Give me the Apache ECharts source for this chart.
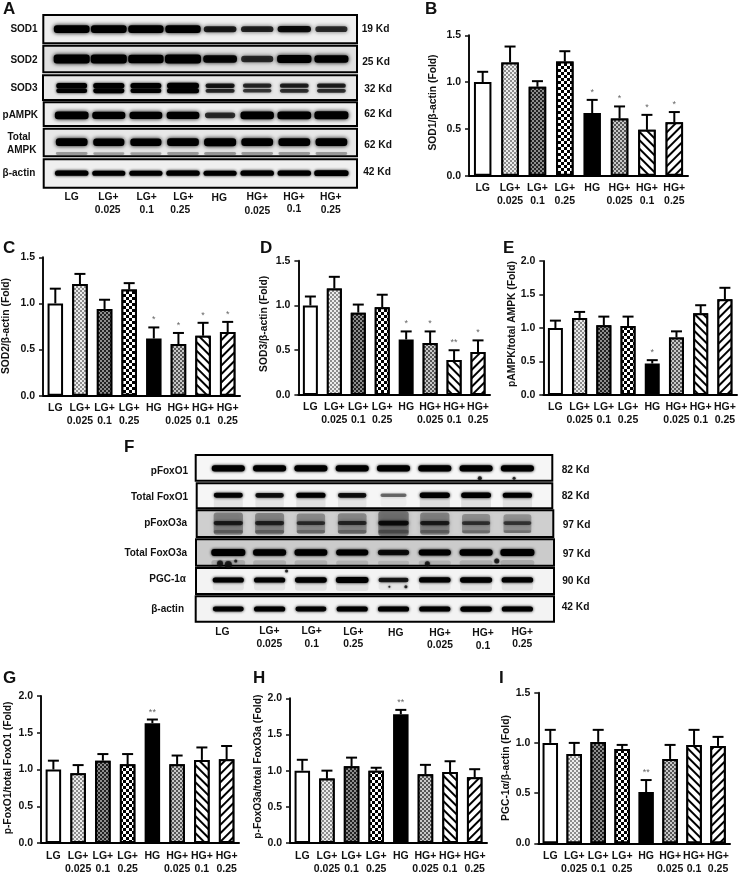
<!DOCTYPE html>
<html>
<head>
<meta charset="utf-8">
<title>Western blot panels</title>
<script src="https://cdn.jsdelivr.net/npm/echarts@6/dist/echarts.min.js"></script>
<style>
  html, body { margin: 0; padding: 0; background: #fff; }
  #main { width: 740px; height: 876px; }
</style>
</head>
<body>
<div id="main"></div>
<script>
const categories = ['LG', 'LG+\n0.025', 'LG+\n0.1', 'LG+\n0.25', 'HG', 'HG+\n0.025', 'HG+\n0.1', 'HG+\n0.25']

// bar heights and the top of each error bar
const sod1Mean = [1.0, 1.21, 0.95, 1.22, 0.67, 0.61, 0.49, 0.57]
const sod1Top = [1.11, 1.38, 1.01, 1.33, 0.81, 0.74, 0.65, 0.68]
const sod1Stars = ['', '', '', '', '*', '*', '*', '*']

const sod2Mean = [1.0, 1.21, 0.94, 1.15, 0.62, 0.56, 0.65, 0.69]
const sod2Top = [1.16, 1.32, 1.04, 1.22, 0.74, 0.68, 0.79, 0.80]
const sod2Stars = ['', '', '', '', '*', '*', '*', '*']

const sod3Mean = [1.0, 1.19, 0.92, 0.98, 0.62, 0.58, 0.39, 0.48]
const sod3Top = [1.10, 1.32, 1.01, 1.12, 0.71, 0.71, 0.50, 0.61]
const sod3Stars = ['', '', '', '', '*', '*', '**', '*']

const ampkMean = [1.0, 1.15, 1.04, 1.03, 0.47, 0.86, 1.22, 1.43]
const ampkTop = [1.11, 1.24, 1.17, 1.17, 0.52, 0.95, 1.34, 1.60]
const ampkStars = ['', '', '', '', '*', '', '', '']

const foxo1Mean = [1.0, 0.95, 1.12, 1.07, 1.63, 1.07, 1.13, 1.14]
const foxo1Top = [1.12, 1.06, 1.21, 1.21, 1.68, 1.19, 1.30, 1.32]
const foxo1Stars = ['', '', '', '', '**', '', '', '']

const foxo3Mean = [1.0, 0.89, 1.06, 1.0, 1.78, 0.95, 0.98, 0.91]
const foxo3Top = [1.15, 1.0, 1.18, 1.04, 1.84, 1.08, 1.13, 1.02]
const foxo3Stars = ['', '', '', '', '**', '', '', '']

const pgcMean = [1.0, 0.89, 1.01, 0.94, 0.51, 0.84, 0.98, 0.97]
const pgcTop = [1.13, 1.0, 1.13, 0.98, 0.63, 0.98, 1.13, 1.06]
const pgcStars = ['', '', '', '', '**', '', '', '']

// band strength per lane (0 - 1), estimated from the blots
const sod1Blot = [0.95, 0.95, 0.9, 0.9, 0.5, 0.45, 0.6, 0.4]
const sod2Blot = [1, 1, 0.9, 1, 0.65, 0.4, 0.75, 0.7]
const sod3Blot = [0.8, 0.85, 0.8, 1, 0.5, 0.4, 0.45, 0.45]
const pampkBlot = [0.95, 0.85, 0.8, 0.8, 0.4, 0.9, 0.95, 1]
const totalAmpkBlot = [0.95, 0.85, 0.85, 0.95, 1, 0.95, 0.95, 0.95]
const actinBlotA = [0.75, 0.7, 0.7, 0.75, 0.7, 0.75, 0.75, 0.9]
const pfoxo1Blot = [0.85, 0.85, 0.85, 0.85, 0.85, 0.85, 0.85, 0.85]
const totalFoxo1Blot = [0.65, 0.55, 0.7, 0.55, 0.12, 0.85, 0.8, 0.7]
const pfoxo3Blot = [0.7, 0.65, 0.55, 0.6, 0.9, 0.7, 0.5, 0.45]
const totalFoxo3Blot = [1, 0.85, 0.8, 0.7, 0.55, 0.7, 0.85, 1]
const pgcBlot = [0.7, 0.7, 0.8, 0.95, 0.5, 0.75, 0.85, 0.75]
const actinBlotF = [0.65, 0.7, 0.65, 0.7, 0.7, 0.7, 0.75, 0.7]

// stray spots on the membranes: [lane, height in the strip, size]
const pfoxo1Specks = [[6.09, 0.9, 4], [6.92, 0.9, 3]]
const totalFoxo3Specks = [[0.18, 0.82, 3], [6.5, 0.82, 5], [4.82, 0.93, 5], [-0.2, 0.92, 6], [0, 0.95, 7]]
const pgcSpecks = [[1.41, 0.12, 3], [3.9, 0.72, 2], [4.3, 0.72, 3]]

const FONT = 'Liberation Sans'

// fill of the eight bars, left to right
const fine = (fg, bg) => ({
  color: fg,
  backgroundColor: bg,
  symbol: 'rect',
  symbolSize: 1,
  dashArrayX: [[2, 2], [0, 2, 2, 0]],
  dashArrayY: [2, 0]
})
const stripes = rotation => ({
  color: '#000',
  backgroundColor: '#fff',
  symbol: 'rect',
  symbolSize: 1,
  dashArrayX: [1, 0],
  dashArrayY: [2, 4],
  rotation
})
const barFills = [
  null,
  fine('#8c8c8c', '#ececec'),
  fine('#222', '#8e8e8e'),
  { color: '#000', backgroundColor: '#fff', symbol: 'rect', symbolSize: 1, dashArrayX: [[3, 3], [0, 3, 3, 0]], dashArrayY: [3, 0] },
  null,
  fine('#555', '#c8c8c8'),
  stripes(Math.PI / 4),
  stripes(-Math.PI / 4)
]
const barColors = ['#fff', '#ccc', '#555', '#777', '#000', '#999', '#888', '#888']

const barPanels = [
  { title: 'SOD1/β-actin (Fold)', mean: sod1Mean, top: sod1Top, stars: sod1Stars, max: 1.5, left: 469, right: 688, yTop: 35.3, yBottom: 175.7, bar: 17.5, margin: 6, gap: 31, shift: 6 },
  { title: 'SOD2/β-actin (Fold)', mean: sod2Mean, top: sod2Top, stars: sod2Stars, max: 1.5, left: 42, right: 240, yTop: 257.3, yBottom: 395.7, bar: 15.5, margin: 6, gap: 32, shift: 1 },
  { title: 'SOD3/β-actin (Fold)', mean: sod3Mean, top: sod3Top, stars: sod3Stars, max: 1.5, left: 298.4, right: 490, yTop: 260.7, yBottom: 395, bar: 15, margin: 6, gap: 29, shift: 8 },
  { title: 'pAMPK/total AMPK (Fold)', mean: ampkMean, top: ampkTop, stars: ampkStars, max: 2, left: 543.3, right: 737, yTop: 261, yBottom: 395, bar: 15, margin: 6, gap: 26, shift: 8 },
  { title: 'p-FoxO1/total FoxO1 (Fold)', mean: foxo1Mean, top: foxo1Top, stars: foxo1Stars, max: 2, left: 41, right: 239, yTop: 696, yBottom: 843.3, bar: 15.5, margin: 7, gap: 28, shift: 3 },
  { title: 'p-FoxO3a/total FoxO3a (Fold)', mean: foxo3Mean, top: foxo3Top, stars: foxo3Stars, max: 2, left: 290, right: 487, yTop: 698.3, yBottom: 844, bar: 15.5, margin: 7, gap: 23, shift: 8 },
  { title: 'PGC-1α/β-actin (Fold)', mean: pgcMean, top: pgcTop, stars: pgcStars, max: 1.5, left: 538.3, right: 730, yTop: 692.7, yBottom: 843.3, bar: 15.5, margin: 6, gap: 27, shift: 0 }
]

// bands: where each band sits in its strip (0 top, 1 bottom), height in px, strength, blur
const firstA = 71.7
const stepA = 37.1
const firstF = 228.3
const stepF = 41.3
const blotStrips = [
  { levels: sod1Blot, first: firstA, step: stepA, x0: 43.3, x1: 357, y0: 15, y1: 43.3, bg: '#efefef', laneW: 36, bands: [[0.5, 8, 1, 4]] },
  { levels: sod2Blot, first: firstA, step: stepA, x0: 43.3, x1: 357, y0: 45.7, y1: 72.3, bg: '#e0e0e0', laneW: 36, bands: [[0.5, 9, 1, 4]] },
  { levels: sod3Blot, first: firstA, step: stepA, x0: 43, x1: 357, y0: 75.3, y1: 100, bg: '#e8e8e8', laneW: 32, bands: [[0.42, 6, 1, 3], [0.63, 5, 0.9, 3]] },
  { levels: pampkBlot, first: firstA, step: stepA, x0: 43.7, x1: 357, y0: 102.3, y1: 126, bg: '#eeeeee', laneW: 34, bands: [[0.55, 8, 1, 4]] },
  { levels: totalAmpkBlot, first: firstA, step: stepA, x0: 43.7, x1: 357, y0: 128.7, y1: 156.3, bg: '#e8e8e8', laneW: 32, bands: [[0.49, 8, 1, 4], [0.9, 3, 0.25, 3]] },
  { levels: actinBlotA, first: firstA, step: stepA, x0: 43.7, x1: 357, y0: 159.3, y1: 187.7, bg: '#efefef', laneW: 35, bands: [[0.49, 6, 1, 3]] },
  { levels: pfoxo1Blot, first: firstF, step: stepF, x0: 195.7, x1: 552.3, y0: 455, y1: 480.7, bg: '#f6f6f6', laneW: 34, bands: [[0.52, 7, 1, 3]], specks: pfoxo1Specks },
  { levels: totalFoxo1Blot, first: firstF, step: stepF, x0: 196.7, x1: 552.3, y0: 483.3, y1: 508.3, bg: '#f6f6f6', laneW: 31, bands: [[0.75, 16, 0.08, 6], [0.48, 6, 1, 3]] },
  { levels: pfoxo3Blot, first: firstF, step: stepF, x0: 196.7, x1: 553.3, y0: 510.3, y1: 537, bg: '#cfcfcf', laneW: 31, bands: [[0.5, 26, 0.34, 5], [0.48, 5, 0.7, 3], [0.8, 4, 0.25, 3]] },
  { levels: totalFoxo3Blot, first: firstF, step: stepF, x0: 196, x1: 554, y0: 539.3, y1: 565.7, bg: '#cbcbcb', laneW: 34, bands: [[0.5, 7, 1, 3], [0.9, 6, 0.12, 4]], specks: totalFoxo3Specks },
  { levels: pgcBlot, first: firstF, step: stepF, x0: 196, x1: 554, y0: 568, y1: 594, bg: '#f3f3f3', laneW: 33, bands: [[0.46, 6, 1, 3], [0.7, 10, 0.06, 5]], specks: pgcSpecks },
  { levels: actinBlotF, first: firstF, step: stepF, x0: 195.7, x1: 554, y0: 596.3, y1: 621.7, bg: '#f3f3f3', laneW: 33, bands: [[0.5, 6, 1, 3]] }
]

// free text: [text, x, y]
const blotLabelsA = [
  ['SOD1', 24, 29.3], ['SOD2', 24, 60], ['SOD3', 24, 88.7], ['pAMPK', 20.3, 115], ['Total', 19, 137.7], ['AMPK', 21.7, 150.3], ['β-actin', 19, 173.3]
]
const kdLabelsA = [['19 Kd', 375.5, 29.3], ['25 Kd', 376, 61.7], ['32 Kd', 378, 89], ['62 Kd', 378, 114.3], ['62 Kd', 378, 145.3], ['42 Kd', 377, 171.7]]
const laneLabelsA = [
  ['LG', 71.7, 197.3], ['LG+', 108.3, 197.3], ['0.025', 107.7, 210], ['LG+', 146.7, 197.3], ['0.1', 146.7, 210], ['LG+', 183.3, 197.3], ['0.25', 180.3, 210],
  ['HG', 219.3, 198], ['HG+', 257.3, 197.3], ['0.025', 257.3, 210.7], ['HG+', 294, 196.7], ['0.1', 294, 209.3], ['HG+', 330.7, 197.3], ['0.25', 330.7, 210]
]
const blotLabelsF = [
  ['pFoxO1', 188, 471.7], ['Total FoxO1', 188, 497], ['pFoxO3a', 187, 523], ['Total FoxO3a', 187, 553], ['PGC-1α', 186, 579], ['β-actin', 184, 609]
]
const kdLabelsF = [['82 Kd', 575.5, 470], ['82 Kd', 575.5, 496.3], ['97 Kd', 576.5, 525], ['97 Kd', 576.5, 553.7], ['90 Kd', 576, 581], ['42 Kd', 575.5, 606.7]]
const laneLabelsF = [
  ['LG', 222.3, 631.7], ['LG+', 269.3, 630.7], ['0.025', 269.3, 644], ['LG+', 311.7, 631], ['0.1', 311.7, 644], ['LG+', 353.3, 631.7], ['0.25', 353.3, 644.3],
  ['HG', 395.7, 633], ['HG+', 440, 632.7], ['0.025', 440, 645], ['HG+', 483, 633.3], ['0.1', 483, 645.7], ['HG+', 522.3, 631.7], ['0.25', 522.3, 644.3]
]
const panelLetters = [
  ['A', 3, 9], ['B', 425, 9], ['C', 3, 248], ['D', 260, 248], ['E', 503, 248], ['F', 124, 447], ['G', 3, 678], ['H', 253, 678], ['I', 499, 678]
]

const grids = []
const xAxes = []
const yAxes = []
const series = []

function addBarPanel (p) {
  const i = grids.length
  grids.push({ left: p.left, top: p.yTop, width: p.right - p.left, height: p.yBottom - p.yTop })
  xAxes.push({
    gridIndex: i,
    type: 'category',
    data: categories,
    axisLine: { lineStyle: { color: '#000', width: 2 } },
    axisTick: { show: false },
    axisLabel: { interval: 0, hideOverlap: false, margin: p.margin, color: '#111', fontFamily: FONT, fontWeight: 'bold', fontSize: 10.5, lineHeight: 13 }
  })
  yAxes.push({
    gridIndex: i,
    type: 'value',
    min: 0,
    max: p.max,
    interval: 0.5,
    splitLine: { show: false },
    axisLine: { show: true, lineStyle: { color: '#111', width: 2 } },
    axisTick: { show: true, length: 4, lineStyle: { color: '#111', width: 1.5 } },
    axisLabel: { margin: 8, color: '#111', fontFamily: FONT, fontWeight: 'bold', fontSize: 10.5, formatter: v => v.toFixed(1) },
    name: p.title,
    nameLocation: 'middle',
    nameRotate: 90,
    nameGap: p.gap,
    nameTextStyle: { color: '#111', fontFamily: FONT, fontWeight: 'bold', fontSize: 10.3, padding: [0, 0, 0, p.shift] }
  })
  series.push({
    type: 'bar',
    xAxisIndex: i,
    yAxisIndex: i,
    barWidth: p.bar,
    animation: false,
    silent: true,
    data: p.mean.map((v, k) => {
      const itemStyle = { color: barColors[k], borderColor: '#000', borderWidth: 2 }
      if (barFills[k]) itemStyle.decal = barFills[k]
      return { value: v, itemStyle }
    })
  })
  // error bars (upper arm only) and the significance stars
  series.push({
    type: 'custom',
    xAxisIndex: i,
    yAxisIndex: i,
    animation: false,
    silent: true,
    z: 3,
    data: p.mean.map((v, k) => [k, v, p.top[k]]),
    renderItem: (params, api) => {
      const from = api.coord([api.value(0), api.value(1)])
      const to = api.coord([api.value(0), api.value(2)])
      const line = { stroke: '#000', lineWidth: 2 }
      const kids = [
        { type: 'line', shape: { x1: from[0], y1: from[1], x2: to[0], y2: to[1] }, style: line },
        { type: 'line', shape: { x1: to[0] - 5.5, y1: to[1], x2: to[0] + 5.5, y2: to[1] }, style: line }
      ]
      const star = p.stars[params.dataIndex]
      if (star) {
        kids.push({
          type: 'text',
          style: { text: star, x: to[0], y: to[1] - 3, align: 'center', verticalAlign: 'bottom', fill: '#666', font: '9px "' + FONT + '"' }
        })
      }
      return { type: 'group', children: kids }
    }
  })
}

function addBlotStrip (s) {
  const i = grids.length
  grids.push({ show: true, left: s.x0, top: s.y0, width: s.x1 - s.x0, height: s.y1 - s.y0, backgroundColor: s.bg, borderColor: '#000', borderWidth: 2 })
  xAxes.push({ gridIndex: i, type: 'value', show: false, min: (s.x0 - s.first) / s.step, max: (s.x1 - s.first) / s.step })
  yAxes.push({ gridIndex: i, type: 'value', show: false, min: 0, max: 1, inverse: true })
  s.bands.forEach(b => {
    series.push({
      type: 'custom',
      xAxisIndex: i,
      yAxisIndex: i,
      animation: false,
      silent: true,
      data: s.levels.map((lv, lane) => [lane, b[0], lv]),
      renderItem: (params, api) => {
        const c = api.coord([api.value(0), api.value(1)])
        const lv = api.value(2)
        const w = s.laneW * (0.82 + 0.18 * lv)
        const h = b[1] * (0.5 + 0.5 * lv)
        const a = Math.min(1, (0.4 + 0.85 * lv) * b[2])
        return {
          type: 'rect',
          shape: { x: c[0] - w / 2, y: c[1] - h / 2, width: w, height: h, r: Math.min(h / 2, 3) },
          style: { fill: 'rgba(0,0,0,' + a + ')', shadowBlur: b[3], shadowColor: 'rgba(0,0,0,' + a + ')' },
          clipPath: { type: 'rect', shape: { x: params.coordSys.x, y: params.coordSys.y, width: params.coordSys.width, height: params.coordSys.height } }
        }
      }
    })
  })
  if (s.specks) {
    series.push({
      type: 'scatter',
      xAxisIndex: i,
      yAxisIndex: i,
      animation: false,
      silent: true,
      data: s.specks,
      symbolSize: d => d[2],
      itemStyle: { color: '#111', shadowBlur: 2, shadowColor: '#000' }
    })
  }
}

barPanels.forEach(addBarPanel)
blotStrips.forEach(addBlotStrip)

function textItems (list, size, align) {
  return list.map(t => ({
    type: 'text',
    x: t[1],
    y: t[2],
    silent: true,
    style: { text: t[0], align, verticalAlign: 'middle', fill: '#111', font: 'bold ' + size + 'px "' + FONT + '"' }
  }))
}

const chart = echarts.init(document.getElementById('main'))
chart.setOption({
  backgroundColor: '#fff',
  animation: false,
  grid: grids,
  xAxis: xAxes,
  yAxis: yAxes,
  series,
  graphic: [
    ...textItems(panelLetters, 17, 'left'),
    ...textItems(blotLabelsA, 10, 'center'),
    ...textItems(kdLabelsA, 10.2, 'center'),
    ...textItems(laneLabelsA, 10.3, 'center'),
    ...textItems(blotLabelsF, 10, 'right'),
    ...textItems(kdLabelsF, 10.2, 'center'),
    ...textItems(laneLabelsF, 10.3, 'center')
  ]
})
</script>
</body>
</html>
